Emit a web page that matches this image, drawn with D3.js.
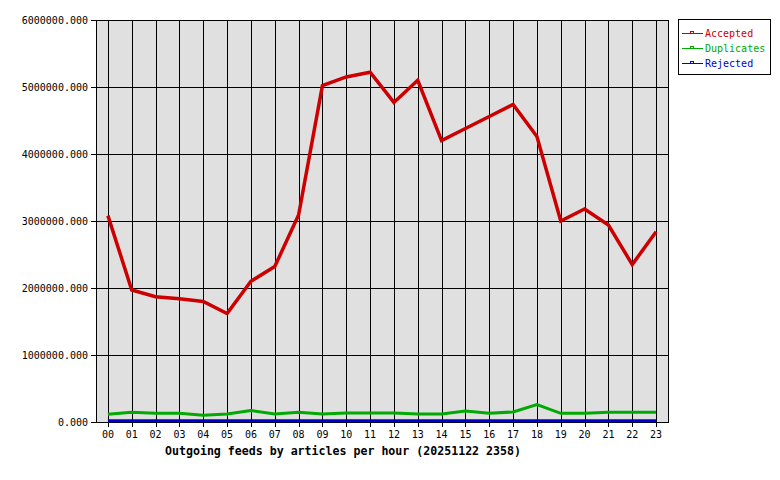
<!DOCTYPE html>
<html>
<head>
<meta charset="utf-8">
<script src="https://cdn.jsdelivr.net/npm/d3@7"></script>
<style>
  body { margin: 0; background: #ffffff; }
  svg { display: block; }
  text { font-family: "DejaVu Sans Mono", monospace; }
</style>
</head>
<body>
<svg id="chart" width="780" height="480"></svg>
<script>

// Hours of the day (x categories)
var hours = ["00","01","02","03","04","05","06","07","08","09","10","11",
             "12","13","14","15","16","17","18","19","20","21","22","23"];

// Series values
var accepted = [3080000, 1970000, 1870000, 1840000, 1800000, 1620000, 2100000, 2320000,
                3090000, 5020000, 5150000, 5220000, 4770000, 5100000, 4200000, 4380000,
                4560000, 4740000, 4260000, 3000000, 3180000, 2940000, 2350000, 2840000];

var duplicates = [115000, 145000, 130000, 130000, 100000, 120000, 170000, 120000,
                  145000, 120000, 135000, 135000, 135000, 120000, 120000, 165000,
                  130000, 150000, 260000, 130000, 130000, 145000, 145000, 145000];

var rejected = [20000, 20000, 20000, 20000, 20000, 20000, 20000, 20000,
                20000, 20000, 20000, 20000, 20000, 20000, 20000, 20000,
                20000, 20000, 20000, 20000, 20000, 20000, 20000, 20000];

// Y axis tick values
var yTicks = [0, 1000000, 2000000, 3000000, 4000000, 5000000, 6000000];

var seriesList = [
    { name: "Accepted",   values: accepted,   color: "#cc0000", width: 3.5 },
    { name: "Duplicates", values: duplicates, color: "#00aa00", width: 3 },
    { name: "Rejected",   values: rejected,   color: "#0000cc", width: 3 }
];

var title = "Outgoing feeds by articles per hour (20251122 2358)";


//*************************************************//
// Draw chart
//*************************************************//

var svg = d3.select("#chart");

// Plot area
var plot = { left: 96, right: 668, top: 20, bottom: 422 };

var x = d3.scalePoint().domain(hours).range([plot.left, plot.right]).padding(0.5);
var y = d3.scaleLinear().domain([0, 6000000]).range([plot.bottom, plot.top]);

// Background of plot area
svg.append("rect")
    .attr("x", plot.left)
    .attr("y", plot.top)
    .attr("width", plot.right - plot.left)
    .attr("height", plot.bottom - plot.top)
    .attr("fill", "#e0e0e0");

// Vertical grid lines
svg.append("g")
    .selectAll("line")
    .data(hours)
    .join("line")
    .attr("x1", function(d) { return Math.round(x(d)) + 0.5; })
    .attr("x2", function(d) { return Math.round(x(d)) + 0.5; })
    .attr("y1", plot.top)
    .attr("y2", plot.bottom + 5)
    .attr("stroke", "#000")
    .attr("shape-rendering", "crispEdges");

// Horizontal grid lines
svg.append("g")
    .selectAll("line")
    .data(yTicks)
    .join("line")
    .attr("x1", plot.left - 5)
    .attr("x2", plot.right)
    .attr("y1", function(d) { return Math.round(y(d)) + 0.5; })
    .attr("y2", function(d) { return Math.round(y(d)) + 0.5; })
    .attr("stroke", "#000")
    .attr("shape-rendering", "crispEdges");

// Plot border
svg.append("rect")
    .attr("x", plot.left + 0.5)
    .attr("y", plot.top + 0.5)
    .attr("width", plot.right - plot.left)
    .attr("height", plot.bottom - plot.top)
    .attr("fill", "none")
    .attr("stroke", "#000")
    .attr("shape-rendering", "crispEdges");

// Y axis labels
svg.append("g")
    .selectAll("text")
    .data(yTicks)
    .join("text")
    .attr("x", 88)
    .attr("y", function(d) { return y(d) + 4; })
    .attr("text-anchor", "end")
    .attr("font-size", "10px")
    .attr("fill", "#000")
    .text(d3.format(".3f"));

// X axis labels
svg.append("g")
    .selectAll("text")
    .data(hours)
    .join("text")
    .attr("x", function(d) { return x(d); })
    .attr("y", 438)
    .attr("text-anchor", "middle")
    .attr("font-size", "10px")
    .attr("fill", "#000")
    .text(function(d) { return d; });

// Series lines
var line = d3.line()
    .x(function(d, i) { return x(hours[i]); })
    .y(function(d) { return y(d); });

svg.append("g")
    .selectAll("path")
    .data(seriesList.slice().reverse())
    .join("path")
    .attr("d", function(s) { return line(s.values); })
    .attr("fill", "none")
    .attr("stroke", function(s) { return s.color; })
    .attr("stroke-width", function(s) { return s.width; })
    .attr("stroke-linejoin", "miter");

// Title
svg.append("text")
    .attr("x", 343)
    .attr("y", 455)
    .attr("text-anchor", "middle")
    .attr("font-size", "11.6px")
    .attr("font-weight", "bold")
    .attr("fill", "#000")
    .text(title);

// Legend
var legend = svg.append("g");

legend.append("rect")
    .attr("x", 678.5)
    .attr("y", 19.5)
    .attr("width", 92)
    .attr("height", 55)
    .attr("fill", "#fff")
    .attr("stroke", "#000")
    .attr("shape-rendering", "crispEdges");

var rows = legend.selectAll("g.row")
    .data(seriesList)
    .join("g")
    .attr("class", "row")
    .attr("transform", function(d, i) { return "translate(0," + (33 + i * 15) + ")"; });

// Swatch line
rows.append("line")
    .attr("x1", 682)
    .attr("x2", 703)
    .attr("y1", 0.5)
    .attr("y2", 0.5)
    .attr("stroke", function(d) { return d.color; })
    .attr("shape-rendering", "crispEdges");

// Small hollow marker sitting on the swatch
rows.append("rect")
    .attr("x", 690.5)
    .attr("y", -1.5)
    .attr("width", 3)
    .attr("height", 2)
    .attr("fill", "#fff")
    .attr("stroke", function(d) { return d.color; })
    .attr("shape-rendering", "crispEdges");

rows.append("text")
    .attr("x", 705)
    .attr("y", 4)
    .attr("font-size", "10px")
    .attr("fill", function(d) { return d.color; })
    .text(function(d) { return d.name; });

</script>
</body>
</html>
